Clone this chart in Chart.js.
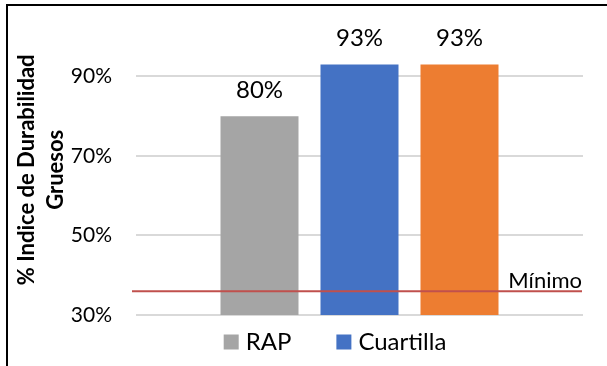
<!DOCTYPE html>
<html>
<head>
<meta charset="utf-8">
<script src="https://cdn.jsdelivr.net/npm/chart.js@4/dist/chart.umd.min.js"></script>
<style>
  html, body { margin: 0; padding: 0; background: #fff; }
  #wrap { position: absolute; left: 0; top: 0; width: 607px; height: 366px; }
  #frame { position: absolute; left: 6px; top: 4px; right: 0; bottom: 0;
           border-top: 2px solid #000; border-left: 2px solid #000; }
  canvas { position: absolute; left: 0; top: 0; }
</style>
</head>
<body>
<div id="wrap">
  <div id="frame"></div>
  <canvas id="chart" width="607" height="366"></canvas>
</div>
<script>
// Chart data
const categories = [''];
const seriesNames = ['RAP', 'Cuartilla', 'Cuartilla (2)'];
const rapValues = [80];
const cuartillaValues = [93];
const cuartilla2Values = [93];
const minimumValue = 36;
const minimumLabel = 'Mínimo';
const yTicks = [30, 50, 70, 90];
const yTitle = ['% Indice de Durabilidad', 'Gruesos'];
const legendSeries = 2; // only the first two series get a legend entry

const FONT = 'Lato, "Open Sans", sans-serif';

// Value labels, minimum line, legend and rotated axis title
const annotate = {
  id: 'annotate',
  afterDatasetsDraw(chart) {
    const { ctx, chartArea, scales } = chart;
    ctx.save();
    // value labels above each bar
    ctx.fillStyle = '#000';
    ctx.font = '24px ' + FONT;
    ctx.textAlign = 'center';
    ctx.textBaseline = 'middle';
    chart.data.datasets.forEach((ds, i) => {
      const meta = chart.getDatasetMeta(i);
      meta.data.forEach((bar, j) => {
        ctx.fillText(ds.data[j] + '%', bar.x, bar.y - 26);
      });
    });
    // minimum reference line
    const y = scales.y.getPixelForValue(minimumValue);
    ctx.strokeStyle = '#C0504D';
    ctx.lineWidth = 2;
    ctx.beginPath();
    ctx.moveTo(chartArea.left - 4, y);
    ctx.lineTo(chartArea.right - 1, y);
    ctx.stroke();
    ctx.font = '22px ' + FONT;
    ctx.textAlign = 'right';
    ctx.textBaseline = 'alphabetic';
    ctx.fillText(minimumLabel, chartArea.right - 1, y - 3);
    ctx.restore();
  },
  afterDraw(chart) {
    const { ctx, chartArea } = chart;
    ctx.save();
    // legend below the plot
    const box = 15, boxGap = 7, itemGap = 45;
    ctx.font = '24px ' + FONT;
    const items = chart.data.datasets.slice(0, legendSeries);
    const widths = items.map(ds => ctx.measureText(ds.label).width);
    const total = widths.reduce((s, w) => s + box + boxGap + w, 0) + itemGap * (items.length - 1);
    let x = chartArea.left + 199 - total / 2;
    const ly = chartArea.bottom + 27;
    ctx.textAlign = 'left';
    ctx.textBaseline = 'middle';
    items.forEach((ds, i) => {
      ctx.fillStyle = ds.backgroundColor;
      ctx.fillRect(x, ly - box / 2, box, box);
      ctx.fillStyle = '#000';
      ctx.fillText(ds.label, x + box + boxGap, ly);
      x += box + boxGap + widths[i] + itemGap;
    });
    // y axis title (two lines, rotated)
    ctx.font = 'bold 22px ' + FONT;
    ctx.textAlign = 'center';
    ctx.textBaseline = 'middle';
    ctx.translate(0, (chartArea.top + chartArea.bottom) / 2 - 6);
    ctx.rotate(-Math.PI / 2);
    ctx.fillText(yTitle[0], 0, 27);
    ctx.fillText(yTitle[1], 0, 56);
    ctx.restore();
  }
};

new Chart(document.getElementById('chart'), {
  type: 'bar',
  data: {
    labels: categories,
    datasets: [
      { label: seriesNames[0], data: rapValues, backgroundColor: '#A5A5A5' },
      { label: seriesNames[1], data: cuartillaValues, backgroundColor: '#4472C4' },
      { label: seriesNames[2], data: cuartilla2Values, backgroundColor: '#ED7D31' }
    ]
  },
  options: {
    responsive: false,
    animation: false,
    devicePixelRatio: 1,
    layout: { padding: { left: 0, right: 24, top: 35, bottom: 51 } },
    datasets: { bar: { categoryPercentage: 300 / 447, barPercentage: 0.78 } },
    scales: {
      x: { display: false },
      y: {
        min: 30, max: 100,
        afterFit(scale) { scale.width = 136; },
        afterBuildTicks(scale) { scale.ticks = yTicks.map(v => ({ value: v })); },
        border: { display: false },
        grid: { color: '#D9D9D9', lineWidth: 2, drawTicks: false },
        ticks: {
          padding: 24,
          color: '#000',
          font: { family: FONT, size: 21 },
          callback: v => v + '%'
        }
      }
    },
    plugins: {
      legend: { display: false },
      tooltip: { enabled: false }
    }
  },
  plugins: [annotate]
});
</script>
</body>
</html>
